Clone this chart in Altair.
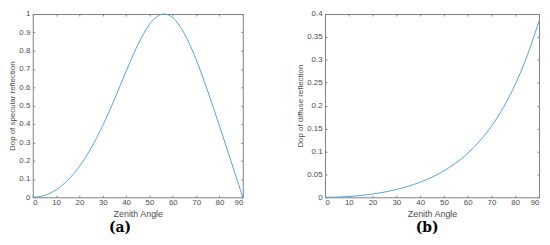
import altair as alt
import pandas as pd

# Panel (a): degree of polarisation of specular reflection
spec_angle = [0, 5, 10, 15, 20, 25, 30, 35, 40, 45, 50, 55, 56.3, 60, 65, 70, 75, 80, 85, 90]
spec_dop = [0, 0.0102, 0.0411, 0.0937, 0.1692, 0.2688, 0.3919, 0.5346, 0.6871, 0.8315,
            0.9432, 0.9975, 1.0, 0.9798, 0.8924, 0.7516, 0.5781, 0.3892, 0.1951, 0]

# Panel (b): degree of polarisation of diffuse reflection
diff_angle = [0, 5, 10, 15, 20, 25, 30, 35, 40, 45, 50, 55, 60, 65, 70, 75, 80, 85, 90]
diff_dop = [0, 0.0004, 0.0017, 0.0039, 0.0071, 0.0114, 0.0170, 0.0241, 0.0329, 0.0440,
            0.0577, 0.0748, 0.0959, 0.1223, 0.1551, 0.1959, 0.2464, 0.3087, 0.3846]

x_ticks = [0, 10, 20, 30, 40, 50, 60, 70, 80, 90]
spec_ticks = [0, 0.1, 0.2, 0.3, 0.4, 0.5, 0.6, 0.7, 0.8, 0.9, 1]
diff_ticks = [0, 0.05, 0.1, 0.15, 0.2, 0.25, 0.3, 0.35, 0.4]

LINE = "#55a2de"
AX = "#808080"
TXT = "#4d4d4d"
FONT = "Liberation Sans"


def panel(angles, values, ytitle, ydomain, yticks, width, label, dx):
    df = pd.DataFrame({"angle": angles, "dop": values})
    base = alt.Chart(df)
    xs = alt.Scale(domain=[0, 90], nice=False)
    ys = alt.Scale(domain=ydomain, nice=False)
    line = base.mark_line(color=LINE, strokeWidth=1, interpolate="monotone").encode(
        x=alt.X("angle:Q", scale=xs,
                axis=alt.Axis(values=x_ticks, title="Zenith Angle", orient="bottom",
                              offset=-2, tickSize=2, labelPadding=1, titlePadding=3,
                              domain=False, grid=False, format="d", labelOverlap=False)),
        y=alt.Y("dop:Q", scale=ys,
                axis=alt.Axis(values=yticks, title=ytitle, orient="left",
                              offset=-2, tickSize=2, labelPadding=3, titlePadding=2,
                              domain=False, grid=False, format="~g", labelOverlap=False)),
    )
    mirror = base.mark_line(opacity=0).encode(
        x=alt.X("angle:Q", scale=xs,
                axis=alt.Axis(values=x_ticks, title=None, orient="top", labels=False,
                              offset=-2, tickSize=2, domain=False, grid=False)),
        y=alt.Y("dop:Q", scale=ys,
                axis=alt.Axis(values=yticks, title=None, orient="right", labels=False,
                              offset=-2, tickSize=2, domain=False, grid=False)),
    )
    return alt.layer(line, mirror).properties(
        width=width, height=185,
        title=alt.TitleParams(label, orient="bottom", frame="group", anchor="middle",
                              dx=dx, offset=3, font="DejaVu Serif", fontSize=14,
                              fontWeight="bold", color="#000000"),
    )


left = panel(spec_angle, spec_dop, "Dop of specular reflection", [0, 1], spec_ticks, 212, "(a)", -18)
right = panel(diff_angle, diff_dop, "Dop of diffuse reflection", [0, 0.4], diff_ticks, 216, "(b)", -5)

chart = alt.hconcat(left, right, spacing=50).properties(
    padding={"left": 0, "top": 0, "right": 0, "bottom": 0}
).configure_view(
    stroke=AX, strokeWidth=1
).configure_axis(
    labelFont=FONT, labelFontSize=8, labelColor=TXT,
    titleFont=FONT, titleFontSize=8, titleFontWeight="normal", titleColor=TXT,
    tickColor=AX, tickWidth=1,
).configure_axisBottom(
    titleFontSize=9
)

chart.save("out.html", embed_options={"renderer": "svg", "actions": False})
